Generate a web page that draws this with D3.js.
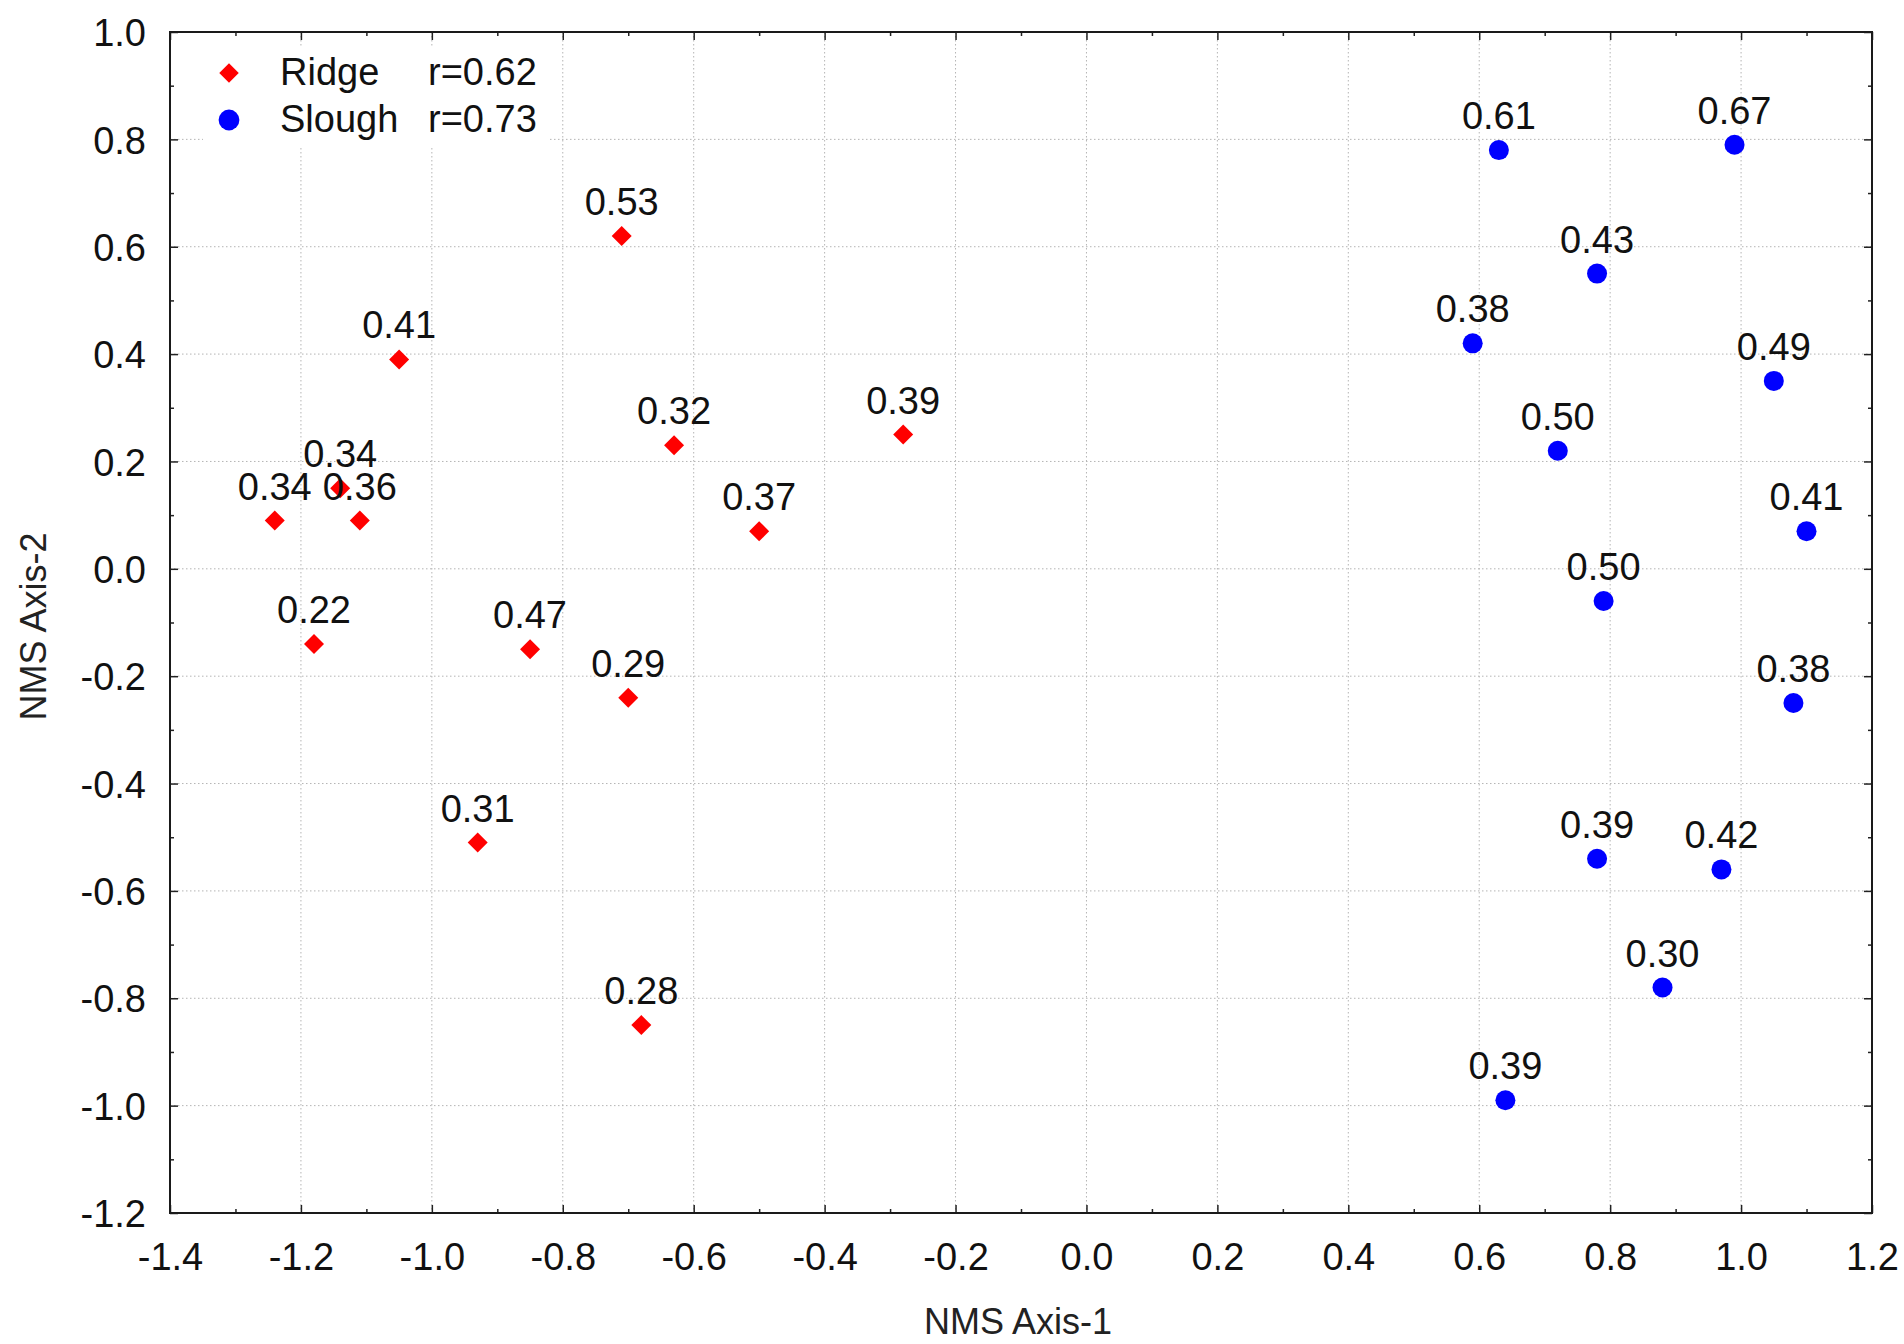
<!DOCTYPE html>
<html>
<head>
<meta charset="utf-8">
<script src="https://cdn.jsdelivr.net/npm/d3@7"></script>
<style>
    body { margin: 0; background: #fff; }
    svg text { font-family: "Liberation Sans", Arial, sans-serif; fill: #111; }
    .axis path { display: none; }
    .axis line { stroke: #222; stroke-width: 1.5; }
    .grid line { stroke: #b4b4b4; stroke-width: 1; stroke-dasharray: 1.5,2.5; }
</style>
</head>
<body>
<div id="chart"></div>
<script>

// Ridge sites (red diamonds)
var ridgeX = [-0.71, -1.05, -0.63, -0.28, -0.50, -1.14, -1.24, -1.11, -1.18, -0.85, -0.70, -0.93, -0.68];
var ridgeY = [0.62, 0.39, 0.23, 0.25, 0.07, 0.15, 0.09, 0.09, -0.14, -0.15, -0.24, -0.51, -0.85];
var ridgeLabels = ["0.53", "0.41", "0.32", "0.39", "0.37", "0.34", "0.34", "0.36", "0.22", "0.47", "0.29", "0.31", "0.28"];

// Slough sites (blue circles)
var sloughX = [0.63, 0.99, 0.78, 0.59, 1.05, 0.72, 1.10, 0.79, 1.08, 0.78, 0.97, 0.88, 0.64];
var sloughY = [0.78, 0.79, 0.55, 0.42, 0.35, 0.22, 0.07, -0.06, -0.25, -0.54, -0.56, -0.78, -0.99];
var sloughLabels = ["0.61", "0.67", "0.43", "0.38", "0.49", "0.50", "0.41", "0.50", "0.38", "0.39", "0.42", "0.30", "0.39"];

// Legend entries
var legendNames = ["Ridge", "Slough"];
var legendR = ["r=0.62", "r=0.73"];

// Axes
var xTicks = [-1.4, -1.2, -1.0, -0.8, -0.6, -0.4, -0.2, 0.0, 0.2, 0.4, 0.6, 0.8, 1.0, 1.2];
var yTicks = [-1.2, -1.0, -0.8, -0.6, -0.4, -0.2, 0.0, 0.2, 0.4, 0.6, 0.8, 1.0];
var xTitle = "NMS Axis-1";
var yTitle = "NMS Axis-2";


/*
 * NmsVis - ordination scatter with site labels
 */
NmsVis = function(_parentElement) {
    this.parentElement = _parentElement;
    this.initVis();
};

NmsVis.prototype.initVis = function() {
    var vis = this;

    vis.margin = { top: 32, right: 32, bottom: 131, left: 170 };
    vis.width = 1904 - vis.margin.left - vis.margin.right;
    vis.height = 1344 - vis.margin.top - vis.margin.bottom;

    vis.svg = d3.select("#" + vis.parentElement).append("svg")
        .attr("width", 1904)
        .attr("height", 1344)
        .append("g")
        .attr("transform", "translate(" + vis.margin.left + "," + vis.margin.top + ")");

    vis.x = d3.scaleLinear().domain([-1.4, 1.2]).range([0, vis.width]);
    vis.y = d3.scaleLinear().domain([-1.2, 1.0]).range([vis.height, 0]);

    // minor ticks halfway between labels
    vis.xMinor = xTicks.slice(1).map(function(d) { return d - 0.1; });
    vis.yMinor = yTicks.slice(1).map(function(d) { return d - 0.1; });

    // dotted grid
    vis.svg.append("g").attr("class", "grid")
        .selectAll("line").data(xTicks.slice(1, -1)).enter().append("line")
        .attr("x1", function(d) { return vis.x(d); })
        .attr("x2", function(d) { return vis.x(d); })
        .attr("y1", 0).attr("y2", vis.height);
    vis.svg.append("g").attr("class", "grid")
        .selectAll("line").data(yTicks.slice(1, -1)).enter().append("line")
        .attr("y1", function(d) { return vis.y(d); })
        .attr("y2", function(d) { return vis.y(d); })
        .attr("x1", 0).attr("x2", vis.width);

    vis.drawAxes();
    vis.drawLegend();
    vis.updateVis();
};

NmsVis.prototype.drawAxes = function() {
    var vis = this;
    // plain hyphen instead of d3's unicode minus
    var fmt = function(d) { return d3.format(".1f")(d).replace("\u2212", "-"); };

    // major ticks (pointing inward) + labels
    vis.svg.append("g").attr("class", "axis")
        .attr("transform", "translate(0," + vis.height + ")")
        .call(d3.axisBottom(vis.x).tickValues(xTicks).tickFormat(fmt)
            .tickSizeInner(-8).tickSizeOuter(0).tickPadding(30))
        .selectAll("text").style("font-size", "38px");
    vis.svg.append("g").attr("class", "axis")
        .call(d3.axisLeft(vis.y).tickValues(yTicks).tickFormat(fmt)
            .tickSizeInner(-8).tickSizeOuter(0).tickPadding(24))
        .selectAll("text").style("font-size", "38px").attr("dy", "0.36em");
    vis.svg.append("g").attr("class", "axis")
        .call(d3.axisTop(vis.x).tickValues(xTicks).tickFormat("").tickSizeInner(-8).tickSizeOuter(0));
    vis.svg.append("g").attr("class", "axis")
        .attr("transform", "translate(" + vis.width + ",0)")
        .call(d3.axisRight(vis.y).tickValues(yTicks).tickFormat("").tickSizeInner(-8).tickSizeOuter(0));

    // minor ticks
    vis.svg.append("g").attr("class", "axis")
        .attr("transform", "translate(0," + vis.height + ")")
        .call(d3.axisBottom(vis.x).tickValues(vis.xMinor).tickFormat("").tickSizeInner(-4).tickSizeOuter(0));
    vis.svg.append("g").attr("class", "axis")
        .call(d3.axisTop(vis.x).tickValues(vis.xMinor).tickFormat("").tickSizeInner(-4).tickSizeOuter(0));
    vis.svg.append("g").attr("class", "axis")
        .call(d3.axisLeft(vis.y).tickValues(vis.yMinor).tickFormat("").tickSizeInner(-4).tickSizeOuter(0));
    vis.svg.append("g").attr("class", "axis")
        .attr("transform", "translate(" + vis.width + ",0)")
        .call(d3.axisRight(vis.y).tickValues(vis.yMinor).tickFormat("").tickSizeInner(-4).tickSizeOuter(0));

    // frame
    vis.svg.append("rect")
        .attr("width", vis.width).attr("height", vis.height)
        .attr("fill", "none").attr("stroke", "#1a1a1a").attr("stroke-width", 2);

    // titles
    vis.svg.append("text")
        .attr("x", vis.width / 2 - 3).attr("y", vis.height + 121)
        .attr("text-anchor", "middle")
        .style("font-size", "36px").style("fill", "#222")
        .text(xTitle);
    vis.svg.append("text")
        .attr("transform", "translate(" + (-124) + "," + (vis.height / 2 + 4) + ") rotate(-90)")
        .attr("text-anchor", "middle")
        .style("font-size", "36px").style("fill", "#222")
        .text(yTitle);
};

NmsVis.prototype.drawLegend = function() {
    var vis = this;

    var lg = vis.svg.append("g").attr("transform", "translate(33,14)");
    lg.append("rect").attr("width", 345).attr("height", 100).attr("fill", "#fff");

    var rows = lg.selectAll(".legend-row").data(legendNames).enter().append("g")
        .attr("class", "legend-row")
        .attr("transform", function(d, i) { return "translate(0," + (i * 47) + ")"; });

    rows.append("path")
        .attr("d", function(d, i) {
            return i === 0 ? d3.symbol(d3.symbolSquare, 190)() : d3.symbol(d3.symbolCircle, 340)();
        })
        .attr("transform", function(d, i) { return "translate(26,27)" + (i === 0 ? " rotate(45)" : ""); })
        .attr("fill", function(d, i) { return i === 0 ? "#ff0000" : "#0000ff"; });

    rows.append("text").attr("x", 77).attr("y", 39)
        .style("font-size", "38px").text(function(d) { return d; });
    rows.append("text").attr("x", 225).attr("y", 39)
        .style("font-size", "38px").text(function(d, i) { return legendR[i]; });
};

NmsVis.prototype.updateVis = function() {
    var vis = this;

    var ridge = ridgeX.map(function(d, i) { return { x: d, y: ridgeY[i], label: ridgeLabels[i] }; });
    var slough = sloughX.map(function(d, i) { return { x: d, y: sloughY[i], label: sloughLabels[i] }; });

    vis.svg.selectAll(".ridge").data(ridge).enter().append("path")
        .attr("class", "ridge")
        .attr("d", d3.symbol(d3.symbolSquare, 200))
        .attr("transform", function(d) { return "translate(" + vis.x(d.x) + "," + vis.y(d.y) + ") rotate(45)"; })
        .attr("fill", "#ff0000");

    vis.svg.selectAll(".slough").data(slough).enter().append("circle")
        .attr("class", "slough")
        .attr("cx", function(d) { return vis.x(d.x); })
        .attr("cy", function(d) { return vis.y(d.y); })
        .attr("r", 10)
        .attr("fill", "#0000ff");

    // value labels above each site
    vis.svg.selectAll(".site-label").data(ridge.concat(slough)).enter().append("text")
        .attr("class", "site-label")
        .attr("x", function(d) { return vis.x(d.x); })
        .attr("y", function(d) { return vis.y(d.y) - 21; })
        .attr("text-anchor", "middle")
        .style("font-size", "38px")
        .text(function(d) { return d.label; });
};

new NmsVis("chart");
</script>
</body>
</html>
